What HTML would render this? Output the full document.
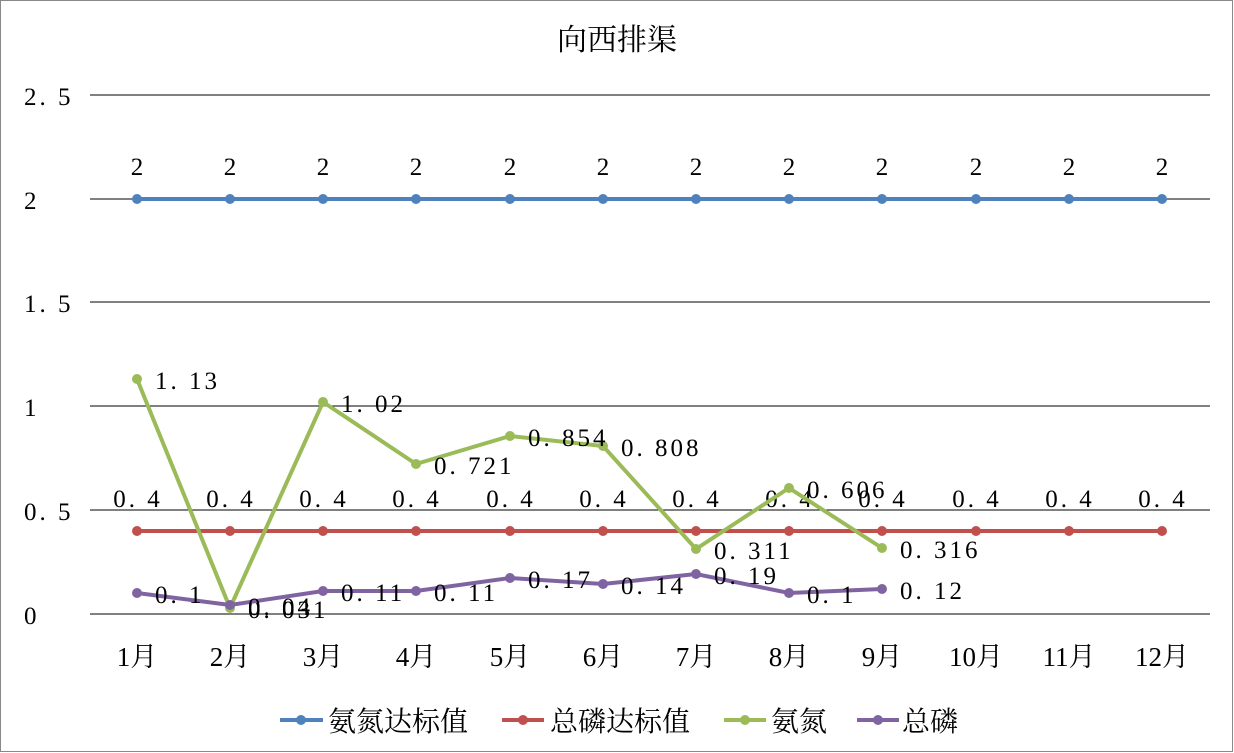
<!DOCTYPE html>
<html><head><meta charset="utf-8"><style>
body{margin:0;background:#fff}
svg{display:block}
text{font-family:"Liberation Serif","Noto Serif CJK SC",serif;fill:#000}
.c{font-family:"Noto Serif CJK SC","WenQuanYi Zen Hei",serif}
</style></head><body>
<svg width="1234" height="753" viewBox="0 0 1234 753" xmlns="http://www.w3.org/2000/svg">
<rect x="0.5" y="0.5" width="1232" height="751" fill="#fff" stroke="#888"/>
<text x="617" y="50" font-size="30" text-anchor="middle" class="c">向西排渠</text>
<g stroke="#000" stroke-width="1">
<line x1="90" y1="95" x2="1210" y2="95"/><line x1="90" y1="199" x2="1210" y2="199"/>
<line x1="90" y1="302" x2="1210" y2="302"/><line x1="90" y1="406" x2="1210" y2="406"/>
<line x1="90" y1="510" x2="1210" y2="510"/><line x1="90" y1="614" x2="1210" y2="614"/>
</g>
<g font-size="25" letter-spacing="3">
<text x="24" y="105">2. 5</text><text x="24" y="209">2</text><text x="24" y="312">1. 5</text>
<text x="24" y="416">1</text><text x="24" y="520">0. 5</text><text x="24" y="624">0</text>
</g>
<g font-size="27" text-anchor="middle">
<text x="137" y="666">1月</text><text x="230" y="666">2月</text><text x="323" y="666">3月</text><text x="416" y="666">4月</text>
<text x="510" y="666">5月</text><text x="603" y="666">6月</text><text x="696" y="666">7月</text><text x="789" y="666">8月</text>
<text x="882" y="666">9月</text><text x="976" y="666">10月</text><text x="1069" y="666">11月</text><text x="1162" y="666">12月</text>
</g>
<polyline fill="none" stroke="#4f81bd" stroke-width="4" points="137,199 230,199 323,199 416,199 510,199 603,199 696,199 789,199 882,199 976,199 1069,199 1162,199"/>
<g fill="#4f81bd"><circle cx="137" cy="199" r="5"/><circle cx="230" cy="199" r="5"/><circle cx="323" cy="199" r="5"/><circle cx="416" cy="199" r="5"/><circle cx="510" cy="199" r="5"/><circle cx="603" cy="199" r="5"/><circle cx="696" cy="199" r="5"/><circle cx="789" cy="199" r="5"/><circle cx="882" cy="199" r="5"/><circle cx="976" cy="199" r="5"/><circle cx="1069" cy="199" r="5"/><circle cx="1162" cy="199" r="5"/></g>
<g font-size="25" text-anchor="middle">
<text x="137" y="175">2</text><text x="230" y="175">2</text><text x="323" y="175">2</text><text x="416" y="175">2</text><text x="510" y="175">2</text><text x="603" y="175">2</text><text x="696" y="175">2</text><text x="789" y="175">2</text><text x="882" y="175">2</text><text x="976" y="175">2</text><text x="1069" y="175">2</text><text x="1162" y="175">2</text>
</g>
<polyline fill="none" stroke="#c0504d" stroke-width="4" points="137,531 230,531 323,531 416,531 510,531 603,531 696,531 789,531 882,531 976,531 1069,531 1162,531"/>
<g fill="#c0504d"><circle cx="137" cy="531" r="5"/><circle cx="230" cy="531" r="5"/><circle cx="323" cy="531" r="5"/><circle cx="416" cy="531" r="5"/><circle cx="510" cy="531" r="5"/><circle cx="603" cy="531" r="5"/><circle cx="696" cy="531" r="5"/><circle cx="789" cy="531" r="5"/><circle cx="882" cy="531" r="5"/><circle cx="976" cy="531" r="5"/><circle cx="1069" cy="531" r="5"/><circle cx="1162" cy="531" r="5"/></g>
<g font-size="25" text-anchor="middle" letter-spacing="3">
<text x="138" y="507">0. 4</text><text x="231" y="507">0. 4</text><text x="324" y="507">0. 4</text><text x="417" y="507">0. 4</text><text x="511" y="507">0. 4</text><text x="604" y="507">0. 4</text><text x="697" y="507">0. 4</text><text x="790" y="507">0. 4</text><text x="883" y="507">0. 4</text><text x="977" y="507">0. 4</text><text x="1070" y="507">0. 4</text><text x="1163" y="507">0. 4</text>
</g>
<polyline fill="none" stroke="#9bbb59" stroke-width="4" points="137,379 230,608 323,402 416,464 510,436 603,446 696,549 789,488 882,548"/>
<g fill="#9bbb59"><circle cx="137" cy="379" r="5"/><circle cx="230" cy="608" r="5"/><circle cx="323" cy="402" r="5"/><circle cx="416" cy="464" r="5"/><circle cx="510" cy="436" r="5"/><circle cx="603" cy="446" r="5"/><circle cx="696" cy="549" r="5"/><circle cx="789" cy="488" r="5"/><circle cx="882" cy="548" r="5"/></g>
<g font-size="25" letter-spacing="3">
<text x="155" y="389">1. 13</text><text x="248" y="618">0. 031</text><text x="341" y="412">1. 02</text><text x="434" y="474">0. 721</text><text x="528" y="446">0. 854</text><text x="621" y="456">0. 808</text><text x="714" y="559">0. 311</text><text x="807" y="498">0. 606</text><text x="900" y="558">0. 316</text>
</g>
<polyline fill="none" stroke="#8064a2" stroke-width="4" points="137,593 230,605 323,591 416,591 510,578 603,584 696,574 789,593 882,589"/>
<g fill="#8064a2"><circle cx="137" cy="593" r="5"/><circle cx="230" cy="605" r="5"/><circle cx="323" cy="591" r="5"/><circle cx="416" cy="591" r="5"/><circle cx="510" cy="578" r="5"/><circle cx="603" cy="584" r="5"/><circle cx="696" cy="574" r="5"/><circle cx="789" cy="593" r="5"/><circle cx="882" cy="589" r="5"/></g>
<g font-size="25" letter-spacing="3">
<text x="155" y="603">0. 1</text><text x="248" y="615">0. 04</text><text x="341" y="601">0. 11</text><text x="434" y="601">0. 11</text><text x="528" y="588">0. 17</text><text x="621" y="594">0. 14</text><text x="714" y="584">0. 19</text><text x="807" y="603">0. 1</text><text x="900" y="599">0. 12</text>
</g>
<g stroke-width="4">
<line x1="280" y1="720" x2="323" y2="720" stroke="#4f81bd"/><line x1="502" y1="720" x2="544" y2="720" stroke="#c0504d"/>
<line x1="724" y1="720" x2="766" y2="720" stroke="#9bbb59"/><line x1="857" y1="720" x2="899" y2="720" stroke="#8064a2"/>
</g>
<circle cx="301" cy="720" r="5" fill="#4f81bd"/><circle cx="523" cy="720" r="5" fill="#c0504d"/><circle cx="745" cy="720" r="5" fill="#9bbb59"/><circle cx="878" cy="720" r="5" fill="#8064a2"/>
<g font-size="28" class="c">
<text x="328" y="731">氨氮达标值</text><text x="550" y="731">总磷达标值</text>
<text x="771" y="731">氨氮</text><text x="902" y="731">总磷</text>
</g>
</svg>
</body></html>
